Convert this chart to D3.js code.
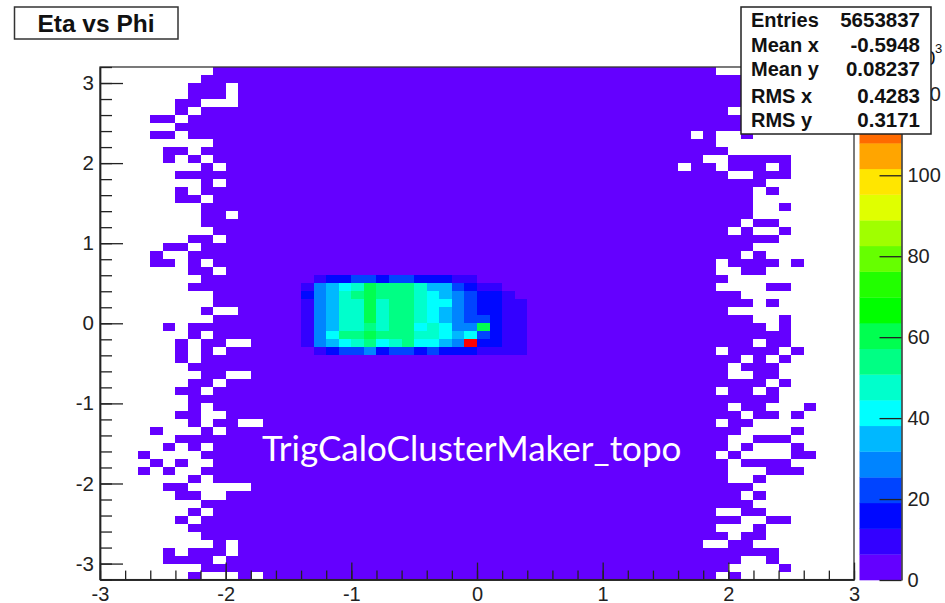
<!DOCTYPE html>
<html>
<head>
<meta charset="utf-8">
<script src="https://cdn.jsdelivr.net/npm/d3@7"></script>
<style>
  html, body { margin: 0; padding: 0; background: #fff; overflow: hidden; }
  text { font-family: "Liberation Sans", sans-serif; fill: #111; }
</style>
</head>
<body>
<svg width="945" height="603"></svg>
<script>
// left fringe of the histogram, bins 3..12 per row, top row first ('#' = filled)
const leftFringe = [
  '......####', '.....#####', '....###.##', '....###.##', '...##...##', '...#.#####', '.##.######', '...#######',
  '.##.######', '......####', '..##.#####', '..#.#.####', '.....#.###', '...#######', '.....#.###', '...#.#####',
  '...##.####', '.....#####', '.....##.##', '.....#####', '......####', '....##.###', '..##.#####', '.#..######',
  '.##.#.####', '....##.###', '.....#####', '....######', '......####', '......####', '.....#..##', '......####',
  '..#.######', '....#.####', '...#.##..#', '...#.#.###', '...#.#####', '....######', '.....##..#', '....##.###',
  '...##.####', '....######', '....#.####', '...##..###', '....#.##..', '.#...#.###', '...#######', '..#.#.####',
  '#....#####', '.#.#..####', '#.#..#####', '....#.####', '..##.....#', '...##..###', '.....#####', '....#.####',
  '...#.#####', '....######', '.....#####', '......#.##', '..#.###.##', '..####.###', '.....#####', '....#...#.'
];
// right fringe, bins 46..56 per row
const rightFringe = [
  '###........', '#######....', '#######....', '#######....', '#######....', '####.##....', '#######....', '#######....',
  '#.#..#.....', '###........', '####.......', '##..#####..', '.##.###.#..', '####..###..', '#######....', '######.#...',
  '######.....', '######..#..', '######.....', '#####.##...', '####.#..#..', '########...', '######.....', '#####.#....',
  '###.####.#.', '###..##....', '####.......', '###....##..', '#####......', '######.#...', '####.......', '######..#..',
  '#######.#..', '#########..', '######.##..', '###.####.#.', '#####.#.#..', '####.###...', '####..##...', '#######.#..',
  '###.##.#...', '########...', '####.##...#', '#####.##.#.', '###.##.....', '#####....#.', '####..###..', '####.#...#.',
  '###.#....##', '####.####..', '####...###.', '####..#....', '######.....', '#####.#....', '######.....', '###..##....',
  '#####..##..', '###...#....', '####.##....', '##..##.....', '########...', '#####..#...', '####....#..', '###.#......'
];
const leftStart = 3;
const rightStart = 46;

// dense core, counts in thousands: rows 26..35, bins 16..33
const coreRowStart = 26;
const coreBinStart = 16;
const coreValues = [
  [3, 10, 16, 16, 22, 22, 16, 22, 22, 16, 16, 16, 10, 10, 3, 3, 3, 3],
  [10, 29, 35, 41, 48, 60, 54, 54, 54, 48, 35, 35, 22, 16, 10, 10, 3, 3],
  [16, 29, 35, 48, 54, 60, 54, 54, 54, 48, 41, 35, 29, 22, 16, 16, 10, 3],
  [10, 29, 35, 48, 48, 60, 48, 54, 54, 48, 41, 41, 29, 22, 16, 16, 10, 10],
  [10, 29, 35, 48, 48, 60, 48, 54, 54, 48, 41, 35, 29, 22, 16, 16, 10, 10],
  [10, 29, 35, 48, 48, 60, 48, 54, 54, 48, 41, 35, 29, 22, 22, 16, 10, 10],
  [10, 29, 35, 48, 48, 54, 48, 54, 54, 41, 48, 41, 29, 29, 60, 16, 10, 10],
  [10, 29, 41, 54, 54, 60, 54, 54, 54, 48, 48, 41, 35, 41, 22, 16, 10, 10],
  [10, 29, 35, 41, 48, 54, 41, 48, 54, 41, 41, 35, 29, 124, 16, 16, 10, 10],
  [3, 10, 16, 22, 22, 29, 16, 22, 22, 16, 22, 16, 16, 16, 10, 10, 10, 10]
];
const backgroundValue = 2;

const paletteColors = [
  '#6400ff', '#3300ff', '#0008ff', '#0044ff', '#0084ff', '#00b8ff', '#00ffff', '#00ffcc', '#00ff84', '#00ff50',
  '#00ff00', '#22ff00', '#66ff00', '#a0ff00', '#e0ff00', '#ffe600', '#ffa500', '#ff6a00', '#ff3300', '#ff0000'
];
const zMax = 127;

const statLabels = ['Entries', 'Mean x', 'Mean y', 'RMS x', 'RMS y'];
const statValues = ['5653837', '-0.5948', '0.08237', '0.4283', '0.3171'];
const statBaselines = [27, 52, 76, 103, 127];

const xTicks = [-3, -2, -1, 0, 1, 2, 3];
const yTicks = [-3, -2, -1, 0, 1, 2, 3];
const zTicks = [0, 20, 40, 60, 80, 100, 120];

const svg = d3.select('svg');

const x = d3.scaleLinear().domain([-3, 3]).range([100, 854]);
const y = d3.scaleLinear().domain([-3.2, 3.2]).range([579.6, 67]);
const z = d3.scaleLinear().domain([0, zMax]).range([580, 66]);
const color = d3.scaleQuantize().domain([0, zMax]).range(paletteColors);

// build the cells from the fringes and the core
const cells = [];
for (let row = 0; row < 64; row++) {
  for (let bin = 0; bin < 60; bin++) {
    let value = backgroundValue;
    if (bin < leftStart || bin > rightStart + 10) value = 0;
    else if (bin < leftStart + 10) value = leftFringe[row][bin - leftStart] === '#' ? backgroundValue : 0;
    else if (bin >= rightStart) value = rightFringe[row][bin - rightStart] === '#' ? backgroundValue : 0;

    const coreRow = coreValues[row - coreRowStart];
    if (coreRow && coreRow[bin - coreBinStart] !== undefined) value = coreRow[bin - coreBinStart];
    if (value > 0) cells.push({ row, bin, value });
  }
}

svg.append('g').attr('shape-rendering', 'crispEdges').selectAll('rect')
  .data(cells)
  .join('rect')
  .attr('x', (d) => x(-3 + d.bin * 0.1))
  .attr('y', (d) => y(3.2 - d.row * 0.1))
  .attr('width', x(0.1) - x(0))
  .attr('height', y(0) - y(0.1))
  .attr('fill', (d) => color(d.value));

// frame
svg.append('rect')
  .attr('x', x(-3)).attr('y', y(3.2))
  .attr('width', x(3) - x(-3)).attr('height', y(-3.2) - y(3.2))
  .attr('fill', 'none').attr('stroke', '#333').attr('stroke-width', 1.3);

// colour bar
const levelSize = zMax / paletteColors.length;
svg.append('g').selectAll('rect')
  .data(paletteColors)
  .join('rect')
  .attr('x', 859.5)
  .attr('width', 42)
  .attr('y', (d, i) => z((i + 1) * levelSize))
  .attr('height', z(0) - z(levelSize) + 0.3)
  .attr('fill', (d) => d);

function styleAxis(g, fontSize) {
  g.selectAll('.domain').attr('stroke', '#222').attr('stroke-width', 1.4);
  g.selectAll('.tick line').attr('stroke', '#222').attr('stroke-width', 1.3);
  g.selectAll('.tick text').attr('font-size', fontSize).style('fill', '#222');
}

const axisY = y(-3.2);
const xMinor = svg.append('g').attr('transform', `translate(0,${axisY})`)
  .call(d3.axisBottom(x).tickValues(d3.range(-30, 31, 2).map((d) => d / 10)).tickSizeInner(-9).tickSizeOuter(0).tickFormat(''));
styleAxis(xMinor, 0);
const xMajor = svg.append('g').attr('transform', `translate(0,${axisY})`)
  .call(d3.axisBottom(x).tickValues(xTicks).tickSizeInner(-17).tickSizeOuter(0).tickPadding(7));
styleAxis(xMajor, 20);
xMajor.selectAll('.tick text').text((d) => String(d));

const yMinor = svg.append('g').attr('transform', 'translate(100,0)')
  .call(d3.axisLeft(y).tickValues(d3.range(-32, 33, 2).map((d) => d / 10)).tickSizeInner(-12).tickSizeOuter(0).tickFormat(''));
styleAxis(yMinor, 0);
const yMajor = svg.append('g').attr('transform', 'translate(100,0)')
  .call(d3.axisLeft(y).tickValues(yTicks).tickSizeInner(-23).tickSizeOuter(0).tickPadding(6));
styleAxis(yMajor, 20.5);
yMajor.selectAll('.tick text').text((d) => String(d));

const zAxis = svg.append('g').attr('transform', 'translate(901.5,0)')
  .call(d3.axisRight(z).tickValues(zTicks).tickSizeInner(-22).tickSizeOuter(0).tickPadding(6));
styleAxis(zAxis, 20);

// exponent of the colour axis, mostly hidden by the stats box
svg.append('text').attr('x', 935.5).attr('y', 65).attr('text-anchor', 'end').attr('font-size', 20).text('×10');
svg.append('text').attr('x', 935).attr('y', 53).attr('font-size', 13).text('3');

// title box
svg.append('rect').attr('x', 14.5).attr('y', 7).attr('width', 163.5).attr('height', 32)
  .attr('fill', '#fff').attr('stroke', '#333').attr('stroke-width', 1.5);
svg.append('text').attr('x', 96).attr('y', 31.5).attr('text-anchor', 'middle')
  .attr('font-size', 24.5).attr('font-weight', 'bold').text('Eta vs Phi');

// stats box
svg.append('rect').attr('x', 741).attr('y', 7).attr('width', 190).attr('height', 127)
  .attr('fill', '#fff').attr('stroke', '#222').attr('stroke-width', 1.5);
svg.append('g').selectAll('text')
  .data(statLabels)
  .join('text')
  .attr('x', 751).attr('y', (d, i) => statBaselines[i])
  .attr('font-size', 20).attr('font-weight', 'bold').text((d) => d);
svg.append('g').selectAll('text')
  .data(statValues)
  .join('text')
  .attr('x', 920).attr('y', (d, i) => statBaselines[i])
  .attr('text-anchor', 'end')
  .attr('font-size', 20.5).attr('font-weight', 'bold').text((d) => d);

// annotation pasted over the plot
svg.append('text').attr('x', 262).attr('y', 461)
  .style('font-family', 'Lato, "Open Sans", sans-serif').style('fill', '#fff')
  .attr('font-size', 35).text('TrigCaloClusterMaker_topo');
</script>
</body>
</html>
